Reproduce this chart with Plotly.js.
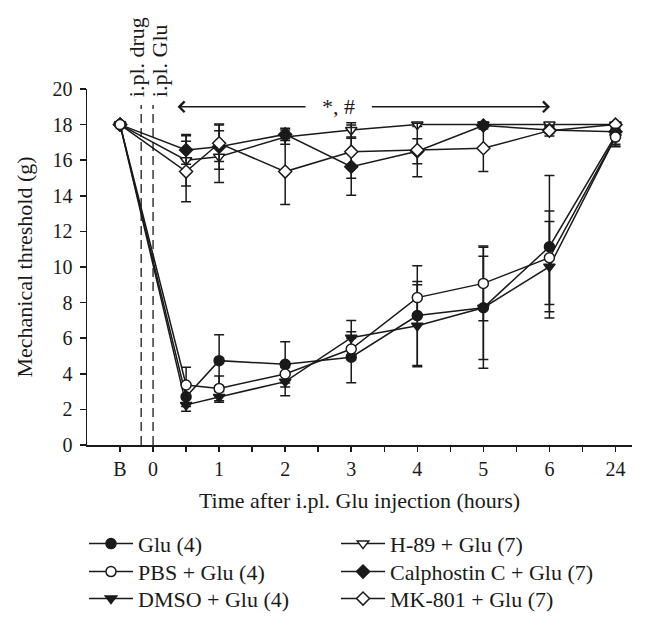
<!DOCTYPE html>
<html>
<head>
<meta charset="utf-8">
<script src="https://cdn.plot.ly/plotly-3.0.1.min.js"></script>
<style>html,body{margin:0;padding:0;background:#fff;}#chart{width:646px;height:625px;}</style>
</head>
<body>
<div id="chart"></div>
<script>
// ---- data ----
var timeLabels = ['B', '0.5', '1', '2', '3', '4', '5', '6', '24'];
var timePos = [-0.5, 0.5, 1, 2, 3, 4, 5, 6, 7];

var gluVals   = [18, 2.71, 4.74, 4.53, 4.93, 7.27, 7.71, 11.14, 17.4];
var gluErr    = [0, 0.55, 1.46, 1.27, 1.43, 2.8, 3.4, 4.0, 0.65];
var pbsVals   = [18, 3.37, 3.18, 3.99, 5.39, 8.28, 9.08, 10.52, 17.3];
var pbsErr    = [0, 1.0, 0.7, 0.5, 0.6, 0.9, 2.1, 2.63, 0.5];
var dmsoVals  = [18, 2.25, 2.7, 3.56, 6.03, 6.7, 7.71, 10.02, 17.3];
var dmsoErr   = [0, 0.35, 0.3, 0.8, 0.97, 2.3, 2.9, 2.53, 0.4];
var h89Vals   = [18, 16.0, 16.2, 17.3, 17.7, 18.0, 18.0, 18.0, 18.0];
var h89Err    = [0, 1.45, 1.45, 0.4, 0.4, 0.1, 0.1, 0.1, 0];
var calphVals = [18, 16.57, 16.76, 17.45, 15.63, 16.5, 17.95, 17.7, 17.6];
var calphErr  = [0, 0.8, 1.27, 0.35, 1.6, 0.7, 0.2, 0.2, 0.3];
var mkVals    = [18, 15.36, 16.95, 15.36, 16.48, 16.57, 16.67, 17.66, 18.0];
var mkErr     = [0, 1.7, 1.03, 1.85, 1.5, 1.5, 1.3, 0.3, 0];

var tickVals = [-0.5, 0, 0.5, 1, 1.5, 2, 2.5, 3, 3.5, 4, 4.5, 5, 5.5, 6, 6.5, 7];
var tickText = ['B', '0', '', '1', '', '2', '', '3', '', '4', '', '5', '', '6', '', '24'];
var yTickVals = [0, 2, 4, 6, 8, 10, 12, 14, 16, 18, 20];

var seriesNames = ['Glu (4)', 'PBS + Glu (4)', 'DMSO + Glu (4)', 'H-89 + Glu (7)', 'Calphostin C + Glu (7)', 'MK-801 + Glu (7)'];

// ---- styling ----
var INK = '#1a1a1a';
var FONT = 'Liberation Serif, Times New Roman, serif';
var TXT = 22;

function mk(name, vals, errs, symbol, fill, legendId) {
  return {
    type: 'scatter', mode: 'lines+markers', name: name,
    x: timePos, y: vals,
    legend: legendId,
    cliponaxis: false,
    line: {color: INK, width: 1.5},
    marker: {symbol: symbol, size: 10, color: fill, line: {color: INK, width: 1.5}},
    error_y: {type: 'data', array: errs, visible: true, color: INK, thickness: 1.5, width: 5}
  };
}

// drawing order (PBS drawn last so its open circle sits on top, as in the reference)
var traces = [
  mk(seriesNames[0], gluVals, gluErr, 'circle', INK, 'legend'),
  mk(seriesNames[2], dmsoVals, dmsoErr, 'triangle-down', INK, 'legend3'),
  mk(seriesNames[3], h89Vals, h89Err, 'triangle-down', '#ffffff', 'legend4'),
  mk(seriesNames[4], calphVals, calphErr, 'diamond', INK, 'legend5'),
  mk(seriesNames[5], mkVals, mkErr, 'diamond', '#ffffff', 'legend6'),
  mk(seriesNames[1], pbsVals, pbsErr, 'circle', '#ffffff', 'legend2')
];

function leg(x, y) {
  return {
    x: x, y: y, orientation: 'v', xanchor: 'left', yanchor: 'top',
    font: {family: FONT, size: TXT, color: INK},
    itemwidth: 44, tracegroupgap: 0, bgcolor: 'rgba(0,0,0,0)', borderwidth: 0
  };
}
var colX = [-0.0055, 0.4569];
var rowY = [-0.2185, -0.2972, -0.373];

var layout = {
  width: 646, height: 625,
  margin: {l: 87, r: 14, t: 89, b: 180, autoexpand: false},
  paper_bgcolor: '#ffffff', plot_bgcolor: '#ffffff',
  font: {family: FONT, size: 20, color: INK},
  showlegend: true,
  legend:  leg(colX[0], rowY[0]),
  legend2: leg(colX[0], rowY[1]),
  legend3: leg(colX[0], rowY[2]),
  legend4: leg(colX[1], rowY[0]),
  legend5: leg(colX[1], rowY[1]),
  legend6: leg(colX[1], rowY[2]),
  xaxis: {
    range: [-1, 7.25], showgrid: false, zeroline: false,
    showline: true, linecolor: INK, linewidth: 1.5,
    ticks: 'outside', ticklen: 5, tickwidth: 1.5, tickcolor: INK,
    tickmode: 'array', tickvals: tickVals, ticktext: tickText,
    tickfont: {family: FONT, size: 20, color: INK},
    title: {text: 'Time after i.pl. Glu injection (hours)', font: {family: FONT, size: TXT, color: INK}, standoff: 14}
  },
  yaxis: {
    range: [0, 20], showgrid: false, zeroline: false,
    showline: true, linecolor: INK, linewidth: 1.5,
    ticks: 'outside', ticklen: 6, tickwidth: 1.5, tickcolor: INK,
    tickmode: 'array', tickvals: yTickVals,
    ticklabelstandoff: 3,
    tickfont: {family: FONT, size: 20, color: INK},
    title: {text: 'Mechanical threshold (g)', font: {family: FONT, size: TXT, color: INK}, standoff: 14}
  },
  shapes: [
    {type: 'line', xref: 'x', yref: 'y', x0: -0.18, x1: -0.18, y0: 0, y1: 19.1, line: {color: INK, width: 1.3, dash: '9px,5px'}},
    {type: 'line', xref: 'x', yref: 'y', x0: 0, x1: 0, y0: 0, y1: 19.1, line: {color: INK, width: 1.3, dash: '9px,5px'}}
  ],
  annotations: [
    {text: 'i.pl. drug', xref: 'x', yref: 'paper', x: -0.25, y: 0.97, xanchor: 'center', yanchor: 'bottom', textangle: -90, showarrow: false, font: {family: FONT, size: TXT, color: INK}},
    {text: 'i.pl. Glu', xref: 'x', yref: 'paper', x: 0.09, y: 0.97, xanchor: 'center', yanchor: 'bottom', textangle: -90, showarrow: false, font: {family: FONT, size: TXT, color: INK}},
    {text: '', xref: 'x', yref: 'y', x: 0.37, y: 19, axref: 'x', ayref: 'y', ax: 2.33, ay: 19, showarrow: true, arrowhead: 4, arrowsize: 1.4, arrowwidth: 1.5, arrowcolor: INK},
    {text: '', xref: 'x', yref: 'y', x: 6.01, y: 19, axref: 'x', ayref: 'y', ax: 3.29, ay: 19, showarrow: true, arrowhead: 4, arrowsize: 1.4, arrowwidth: 1.5, arrowcolor: INK},
    {text: '*, #', xref: 'x', yref: 'y', x: 2.8, y: 19, xanchor: 'center', yanchor: 'middle', showarrow: false, font: {family: FONT, size: TXT, color: INK}}
  ]
};

Plotly.newPlot('chart', traces, layout, {displayModeBar: false, staticPlot: true});
</script>
</body>
</html>
